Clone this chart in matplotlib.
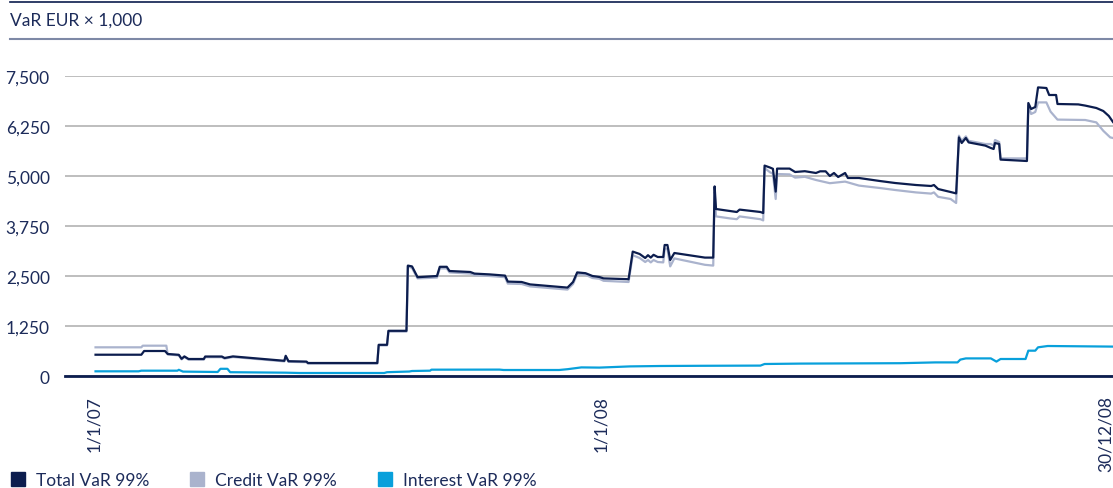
import datetime as dt
import matplotlib
matplotlib.use("Agg")
import matplotlib.pyplot as plt
from matplotlib.lines import Line2D
from matplotlib.patches import Rectangle

plt.rcParams['font.family'] = ['Lato', 'DejaVu Sans']

# days counted from 1/1/07
total_days = [1, 34, 36, 51, 53, 61, 63, 65, 68, 79, 80, 92, 94, 100, 137, 138, 140, 153, 154, 204,
              205, 211, 212, 225, 226, 229, 233, 247, 249, 254, 256, 271, 274, 285, 296, 298, 308, 314,
              341, 345, 348, 354, 359, 364, 367, 385, 388, 393, 397, 399, 401, 403, 406, 410, 411, 413,
              415, 418, 440, 446, 447, 448, 458, 463, 465, 480, 482, 483, 487, 489, 491, 492, 501, 505,
              512, 520, 523, 527, 530, 533, 536, 541, 543, 551, 556, 566, 577, 592, 603, 605, 608, 617,
              621, 623, 625, 628, 630, 642, 646, 648, 649, 652, 653, 672, 673, 675, 678, 680, 686, 688,
              693, 694, 709, 714, 722, 727, 731, 734]
total_var = [532, 532, 625, 625, 550, 530, 430, 490, 425, 425, 487, 487, 450, 490, 380, 505, 370, 360, 325, 325,
             780, 780, 1130, 1130, 2760, 2740, 2470, 2500, 2730, 2730, 2625, 2600, 2560, 2540, 2510, 2360, 2350, 2290,
             2210, 2350, 2590, 2570, 2500, 2475, 2440, 2420, 3110, 3050, 2950, 3020, 2960, 3030, 2975, 2975, 3275, 3275,
             2900, 3075, 2960, 2960, 4740, 4175, 4125, 4100, 4160, 4100, 4075, 5260, 5210, 5180, 4610, 5185, 5185, 5100,
             5120, 5075, 5117, 5117, 5000, 5075, 4975, 5075, 4950, 4950, 4925, 4875, 4825, 4775, 4750, 4775, 4675, 4600,
             4565, 5965, 5825, 5950, 5840, 5760, 5700, 5675, 5825, 5800, 5410, 5375, 6825, 6675, 6725, 7215, 7200, 7025,
             7025, 6800, 6790, 6760, 6700, 6625, 6500, 6350]

credit_days = [1, 34, 35, 52, 53, 61, 63, 65, 68, 79, 80, 92, 94, 100, 137, 138, 140, 153, 154, 204,
               205, 211, 212, 225, 226, 229, 233, 247, 249, 254, 256, 271, 274, 285, 296, 298, 308, 314,
               341, 345, 348, 354, 359, 364, 367, 385, 388, 393, 397, 399, 401, 403, 406, 410, 411, 413,
               415, 418, 440, 446, 447, 448, 458, 463, 465, 480, 482, 483, 487, 489, 491, 492, 501, 505,
               512, 520, 530, 541, 551, 566, 577, 592, 603, 605, 608, 617, 621, 623, 625, 628, 630, 642,
               646, 648, 649, 652, 653, 672, 673, 675, 678, 680, 686, 689, 694, 714, 722, 727, 732, 734]
credit_var = [717, 717, 758, 758, 540, 515, 415, 475, 410, 410, 470, 470, 435, 475, 365, 490, 355, 345, 310, 310,
              765, 765, 1110, 1110, 2740, 2700, 2440, 2460, 2690, 2690, 2590, 2560, 2520, 2500, 2470, 2310, 2300, 2240,
              2160, 2300, 2550, 2530, 2450, 2430, 2380, 2350, 3020, 2950, 2850, 2900, 2840, 2900, 2850, 2840, 3180, 3180,
              2740, 2940, 2780, 2760, 4600, 3990, 3940, 3920, 3990, 3920, 3890, 5200, 5090, 5060, 4425, 5050, 5040, 4960,
              4980, 4900, 4820, 4860, 4760, 4700, 4650, 4590, 4560, 4590, 4480, 4425, 4325, 6008, 5880, 5990, 5880, 5800,
              5800, 5760, 5900, 5850, 5440, 5440, 6760, 6550, 6600, 6840, 6840, 6610, 6410, 6400, 6340, 6130, 5965, 5950]

interest_days = [1, 32, 34, 60, 61, 64, 89, 91, 96, 98, 138, 148, 209, 211, 227, 229, 242, 243, 292, 295,
                 335, 341, 351, 364, 386, 408, 437, 480, 483, 509, 545, 581, 606, 622, 624, 628, 646, 650,
                 653, 671, 673, 678, 680, 687, 734]
interest_var = [117, 117, 133, 133, 155, 110, 100, 180, 180, 95, 83, 75, 75, 95, 112, 125, 133, 158, 160, 150,
                150, 170, 215, 210, 240, 250, 255, 260, 300, 310, 315, 320, 340, 340, 410, 440, 440, 360,
                425, 425, 633, 633, 717, 750, 735]

y_ticks = [0, 1250, 2500, 3750, 5000, 6250, 7500]
x_tick_labels = ['1/1/07', '1/1/08', '30/12/08']
x_tick_dates = [dt.date(2007, 1, 1), dt.date(2008, 1, 1), dt.date(2008, 12, 30)]
series_names = ['Total VaR 99%', 'Credit VaR 99%', 'Interest VaR 99%']

navy = '#0c1d4e'
credit_col = '#aab3cd'
interest_col = '#08a0db'
text_col = '#1c2b5a'
fs = 12.5

start = dt.date(2007, 1, 1)
def to_dates(days):
    return [start + dt.timedelta(days=d) for d in days]

fig = plt.figure(figsize=(11.13, 4.89), dpi=100)
ax = fig.add_axes([65 / 1113, 1 - 377 / 489, 1 - 65 / 1113, 300 / 489])

ax.plot(to_dates(credit_days), credit_var, color=credit_col, lw=1.6, zorder=3)
ax.plot(to_dates(total_days), total_var, color=navy, lw=1.6, zorder=4)
ax.plot(to_dates(interest_days), interest_var, color=interest_col, lw=1.6, zorder=5)

ax.set_ylim(0, 7500)
ax.set_xlim(start - dt.timedelta(days=21.7), start + dt.timedelta(days=734.7))
ax.set_yticks(y_ticks)
ax.set_yticklabels(['{:,}'.format(v) for v in y_ticks])
ax.set_xticks(x_tick_dates)
ax.set_xticklabels(x_tick_labels, rotation=90, va='top', ha='center')
ax.tick_params(length=0, labelsize=fs, colors=text_col)
ax.tick_params(axis='y', pad=11)
ax.tick_params(axis='x', pad=14)

ax.grid(axis='y', color='#b9b9b9', lw=1.3)
ax.set_axisbelow(True)
for s in ['top', 'right', 'left']:
    ax.spines[s].set_visible(False)
ax.spines['bottom'].set_color(navy)
ax.spines['bottom'].set_linewidth(2)
ax.spines['bottom'].set_zorder(6)

# header lines and title
fig.add_artist(Line2D([10 / 1113, 1], [1 - 3 / 489] * 2, color=navy, lw=1.2))
fig.add_artist(Line2D([10 / 1113, 1], [1 - 39.5 / 489] * 2, color='#7e89a6', lw=1.5))
fig.text(10 / 1113, 1 - 21 / 489, 'VaR EUR \u00d7 1,000', fontsize=fs, color=text_col,
         va='center', ha='left')

# legend
leg_x = [11, 190, 378]
for x0, name, col in zip(leg_x, series_names, [navy, credit_col, interest_col]):
    fig.add_artist(Rectangle((x0 / 1113, 1 - 487 / 489), 14 / 1113, 14 / 489, color=col,
                             transform=fig.transFigure))
    fig.text((x0 + 25) / 1113, 1 - 481 / 489, name, fontsize=fs, color=text_col,
             va='center', ha='left')

plt.savefig('out.png', dpi=100)
